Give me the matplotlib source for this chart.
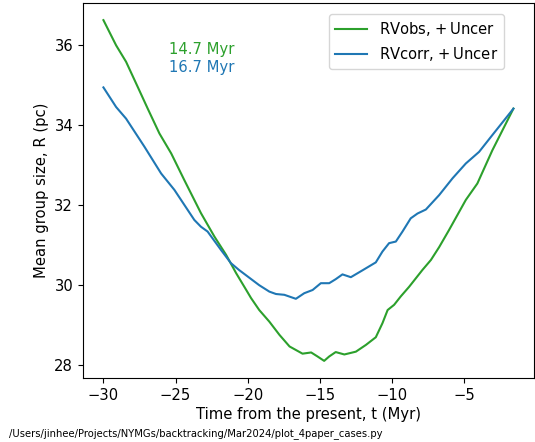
import matplotlib
matplotlib.use('Agg')
import matplotlib.pyplot as plt

# mean group size vs time
t_obs = [-30, -29.12, -28.43, -27.62, -26.93, -26.12, -25.3, -24.4, -23.24, -22.3,
         -21.5, -20.8, -20.1, -19.77, -19.2, -18.5, -17.8, -17.1, -16.2, -15.6,
         -15.16, -14.7, -14.35, -13.9, -13.3, -12.5, -11.8, -11.12, -10.66, -10.3,
         -9.85, -9.39, -8.81, -7.89, -7.3, -6.73, -6.04, -4.88, -4.08, -3.04, -1.58]
R_obs = [36.62, 35.99, 35.58, 34.95, 34.41, 33.79, 33.29, 32.63, 31.80, 31.21,
         30.76, 30.30, 29.88, 29.68, 29.38, 29.09, 28.76, 28.47, 28.29, 28.32,
         28.22, 28.11, 28.22, 28.33, 28.27, 28.34, 28.51, 28.70, 29.05, 29.38,
         29.51, 29.72, 29.96, 30.38, 30.63, 30.95, 31.38, 32.13, 32.54, 33.37, 34.41]

t_corr = [-30, -29.12, -28.43, -27.16, -26.0, -25.08, -23.7, -23.24, -22.78, -21.85,
          -21.16, -20.6, -19.2, -18.5, -18.04, -17.46, -16.66, -16.08, -15.5, -14.93,
          -14.35, -13.9, -13.43, -12.85, -12.05, -11.12, -10.66, -10.2, -9.73, -9.27,
          -8.7, -8.23, -7.65, -6.73, -5.8, -4.88, -3.96, -3.04, -1.58]
R_corr = [34.94, 34.45, 34.16, 33.46, 32.79, 32.38, 31.63, 31.46, 31.34, 30.88,
          30.55, 30.38, 30.0, 29.84, 29.78, 29.76, 29.66, 29.8, 29.88, 30.05,
          30.05, 30.15, 30.27, 30.2, 30.37, 30.57, 30.84, 31.05, 31.09, 31.34,
          31.67, 31.79, 31.89, 32.25, 32.67, 33.04, 33.33, 33.75, 34.41]

age_obs = '14.7 Myr'
age_corr = '16.7 Myr'

fs = 10.6

fig = plt.figure(figsize=(5.35, 4.42), dpi=100)
ax = fig.add_axes([0.155, 0.145, 0.843, 0.848])

ax.plot(t_obs, R_obs, color='tab:green', lw=1.5, label='RVobs, $+\\,$Uncer')
ax.plot(t_corr, R_corr, color='tab:blue', lw=1.5, label='RVcorr, $+\\,$Uncer')

ax.text(0.19, 0.877, age_obs, color='tab:green', fontsize=fs,
        transform=ax.transAxes, va='center')
ax.text(0.19, 0.828, age_corr, color='tab:blue', fontsize=fs,
        transform=ax.transAxes, va='center')

ax.set_xlabel('Time from the present, t (Myr)', fontsize=fs, labelpad=3)
ax.set_ylabel('Mean group size, R (pc)', fontsize=fs)
ax.set_xticks([-30, -25, -20, -15, -10, -5])
ax.set_yticks([28, 30, 32, 34, 36])
ax.tick_params(labelsize=fs)

ax.legend(loc='upper right', bbox_to_anchor=(0.934, 0.971), borderaxespad=0,
          fontsize=fs, handlelength=2.2)

fig.text(0.017, 0.02, '/Users/jinhee/Projects/NYMGs/backtracking/Mar2024/plot_4paper_cases.py',
         fontsize=7.2, va='center')

fig.savefig('out.png', dpi=100)
